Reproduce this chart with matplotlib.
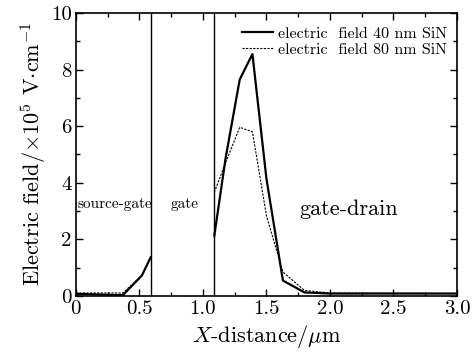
import matplotlib
matplotlib.use("Agg")
import matplotlib.pyplot as plt
from matplotlib.ticker import MultipleLocator

plt.rcParams['font.family'] = ['cmr10', 'DejaVu Serif']
plt.rcParams['mathtext.fontset'] = 'cm'
plt.rcParams['axes.formatter.use_mathtext'] = True

# Source-gate region
x_sg = [0.0, 0.37, 0.52, 0.59]
y40_sg = [0.07, 0.02, 0.72, 1.37]
y80_sg = [0.10, 0.10, 0.72, 1.37]

# Gate-drain region
x_gd = [1.09, 1.18, 1.29, 1.39, 1.50, 1.63, 1.80, 2.0, 3.0]
y40_gd = [2.13, 4.9, 7.65, 8.55, 4.15, 0.54, 0.12, 0.08, 0.08]
y80_gd = [3.66, 4.72, 5.96, 5.80, 2.84, 0.84, 0.19, 0.10, 0.08]

boundaries = [0.59, 1.09]
label40 = "electric  field 40 nm SiN"
label80 = "electric  field 80 nm SiN"

fig = plt.figure(figsize=(4.77, 3.53), dpi=100)
ax = fig.add_axes([0.159, 0.162, 0.799, 0.801])

ax.plot(x_sg, y40_sg, color='black', lw=1.6, label=label40)
ax.plot(x_sg, y80_sg, color='black', lw=0.8, ls=(0, (2, 1.2)), label=label80)
ax.plot(x_gd, y40_gd, color='black', lw=1.6)
ax.plot(x_gd, y80_gd, color='black', lw=0.8, ls=(0, (2, 1.2)))
for b in boundaries:
    ax.axvline(b, color='black', lw=1.0)

ax.set_xlim(0, 3.0)
ax.set_ylim(0, 10)
ax.xaxis.set_major_locator(MultipleLocator(0.5))
ax.xaxis.set_minor_locator(MultipleLocator(0.25))
ax.yaxis.set_major_locator(MultipleLocator(2))
ax.yaxis.set_minor_locator(MultipleLocator(1))
ax.xaxis.set_major_formatter(matplotlib.ticker.FuncFormatter(lambda v, p: '0' if v == 0 else f'{v:.1f}'))
ax.yaxis.set_major_formatter(matplotlib.ticker.FuncFormatter(lambda v, p: f'{int(v)}'))
ax.tick_params(which='both', direction='in', top=True, right=True, labelsize=15, pad=3)
ax.tick_params(which='major', length=5, width=1)
ax.tick_params(which='minor', length=3, width=1)
for s in ax.spines.values():
    s.set_linewidth(1.2)

ax.set_xlabel(r'$X$-distance/$\mu$m', fontsize=16, labelpad=4)
ax.set_ylabel(r'Electric field/$\times 10^5$ V$\cdot$cm$^{-1}$', fontsize=16, labelpad=2)

ax.text(0.01, 3.25, 'source-gate', fontsize=11, ha='left', va='center')
ax.text(0.86, 3.25, 'gate', fontsize=11, ha='center', va='center')
ax.text(2.15, 3.05, 'gate-drain', fontsize=16, ha='center', va='center')

leg = ax.legend(loc='upper right', bbox_to_anchor=(1.0, 0.985), frameon=False,
                fontsize=11.5, handlelength=2.0, handletextpad=0.3,
                labelspacing=0.1, borderaxespad=0.2)

fig.savefig('out.png', dpi=100)
